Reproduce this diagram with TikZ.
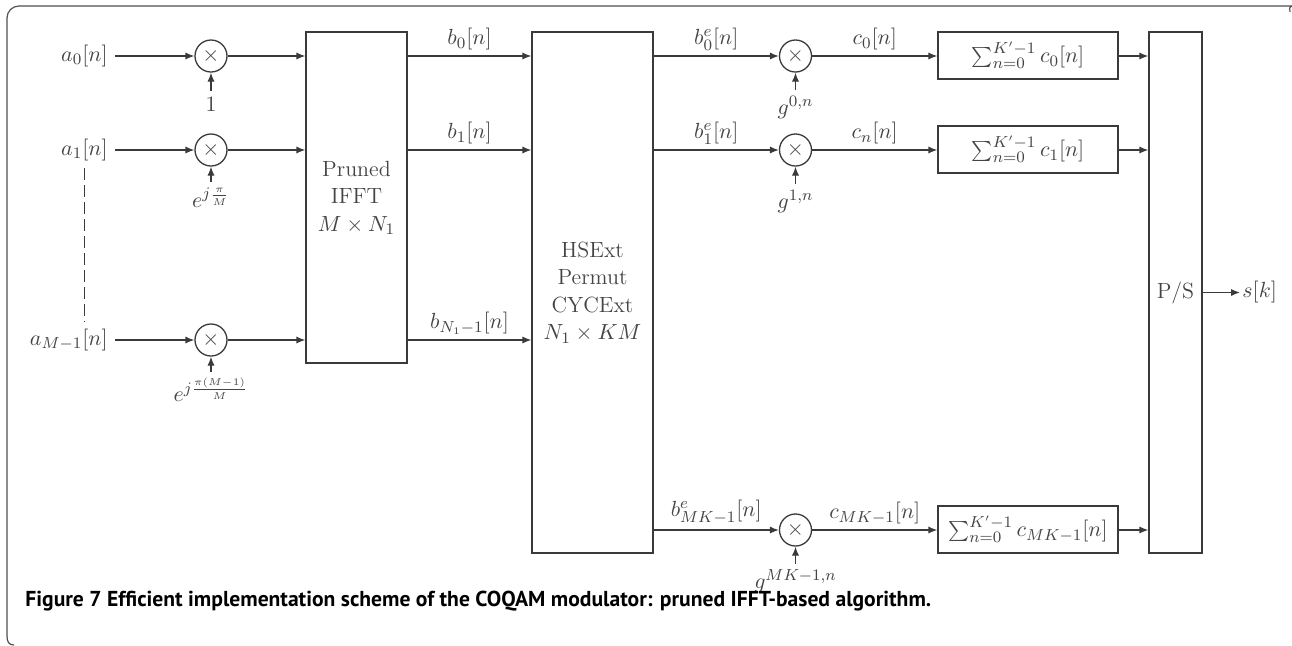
\documentclass[tikz,border=0pt]{standalone}
\usepackage{fontspec}
\newfontfamily\capfont{PT Sans}
\usetikzlibrary{arrows.meta,calc}
\definecolor{dg}{HTML}{3A3A3A}
\definecolor{tg}{HTML}{444444}
\definecolor{fr}{HTML}{505050}
\begin{document}
\begin{tikzpicture}[x=0.5pt,y=-0.5pt,
  every node/.style={font=\fontsize{11}{13.75}\selectfont},
  ln/.style={line width=0.65pt, draw=dg},
  arr/.style={ln, -{Latex[length=4.5pt,width=3.6pt]}},
  mult/.style={circle, ln, minimum size=16pt, inner sep=0pt, text=tg},
  blk/.style={rectangle, ln, inner sep=0pt, align=center, text=tg},
  lab/.style={inner sep=0pt, text=tg},
  sig/.style={inner sep=2.5pt, text=tg},
  inp/.style={inner sep=3.5pt, text=tg, anchor=east},
  framestyle/.style={line width=0.6pt, draw=fr}]
\useasboundingbox (0,0) rectangle (1292,645);
% frame
\draw[framestyle] (14,645) .. controls (9,645) and (7,642) .. (7,636)
  [rounded corners=6pt] -- (7,6) -- (1283,6) [sharp corners]
  .. controls (1288,6) and (1290,8) .. (1290,12);
% inputs
\node[inp] (in0) at (115,56) {$a_0[n]$};
\node[inp] (in1) at (115,150) {$a_1[n]$};
\node[inp] (inL) at (115,340) {$a_{M-1}[n]$};
\draw[ln, dash pattern=on 6pt off 2.5pt] (in1.south) -- (in1.south |- inL.north);
% first multipliers
\node[mult] (m0) at (211,56) {$\times$};
\node[mult] (m1) at (211,150) {$\times$};
\node[mult] (mL) at (211,340) {$\times$};
\node[lab, anchor=north] (k0) at ([yshift=-12pt]m0.south) {$1$};
\node[lab, anchor=north] (k1) at ([yshift=-10.5pt]m1.south) {$e^{j\frac{\pi}{M}}$};
\node[lab, anchor=north] (kL) at ([yshift=-10.5pt]mL.south) {$e^{j\frac{\pi(M-1)}{M}}$};
\foreach \i in {0,1,L}{
  \draw[arr] (in\i) -- (m\i);
  \draw[arr, shorten <=3pt] (k\i.north) -- (m\i.south);
}
% IFFT block
\node[blk, minimum width=50.5pt, minimum height=165.5pt] (ifft) at (356.5,197.5)
  {Pruned\\IFFT\\$M\times N_1$};
\foreach \i in {0,1,L}{
  \draw[arr] (m\i.east) -- (m\i.east -| ifft.west);
}
% HSExt block
\node[blk, minimum width=60.5pt, minimum height=260.5pt] (hse) at (592.5,292.5)
  {HSExt\\Permut\\CYCExt\\$N_1\times KM$};
\draw[arr] (ifft.east |- m0.east) -- node[sig, above] (b0) {$b_0[n]$} (hse.west |- m0.east);
\draw[arr] (ifft.east |- m1.east) -- node[sig, above] (b1) {$b_1[n]$} (hse.west |- m1.east);
\draw[arr] (ifft.east |- mL.east) -- node[sig, above] (bL) {$b_{N_1-1}[n]$} (hse.west |- mL.east);
% second multipliers
\node[mult] (g0) at (795.5,56) {$\times$};
\node[mult] (g1) at (795.5,150) {$\times$};
\node[mult] (gL) at (795.5,530) {$\times$};
\node[lab, anchor=north] (h0) at ([yshift=-11.5pt]g0.south) {$g^{0,n}$};
\node[lab, anchor=north] (h1) at ([yshift=-11.5pt]g1.south) {$g^{1,n}$};
\node[lab, anchor=north] (hL) at ([yshift=-11.5pt]gL.south) {$g^{MK-1,n}$};
\draw[arr] (hse.east |- g0.west) -- node[sig, above] (be0) {$b^e_0[n]$} (g0.west);
\draw[arr] (hse.east |- g1.west) -- node[sig, above] (be1) {$b^e_1[n]$} (g1.west);
\draw[arr] (hse.east |- gL.west) -- node[sig, above] (beL) {$b^e_{MK-1}[n]$} (gL.west);
\foreach \i in {0,1,L}{
  \draw[arr, shorten <=3pt] (h\i.north) -- (g\i.south);
}
% sum blocks
\node[blk, minimum width=90pt, minimum height=23.5pt] (s0) at (1028,55.5)
  {$\sum_{n=0}^{K'-1} c_0[n]$};
\node[blk, minimum width=90pt, minimum height=23.5pt] (s1) at (1028,149.5)
  {$\sum_{n=0}^{K'-1} c_1[n]$};
\node[blk, minimum width=90pt, minimum height=23.5pt] (sL) at (1028,529.5)
  {$\sum_{n=0}^{K'-1} c_{MK-1}[n]$};
\draw[arr] (g0.east) -- node[sig, above] (c0) {$c_0[n]$} (g0.east -| s0.west);
\draw[arr] (g1.east) -- node[sig, above] (c1) {$c_n[n]$} (g1.east -| s1.west);
\draw[arr] (gL.east) -- node[sig, above] (cL) {$c_{MK-1}[n]$} (gL.east -| sL.west);
% P/S block
\node[blk, minimum width=26.5pt, minimum height=260.5pt] (ps) at (1175.5,292.5) {P/S};
\foreach \i in {0,1,L}{
  \draw[arr] (s\i.east |- g\i.east) -- (ps.west |- g\i.east);
}
\node[lab, anchor=west, inner sep=1pt] (out) at (1240,292.5) {$s[k]$};
\draw[arr] (ps.east |- out.west) -- (out.west);
% caption
\node[anchor=base west, inner sep=0pt, font=\capfont\bfseries\fontsize{10.8}{13}\selectfont] (cap)
  at (25,606) {Figure 7 Efficient implementation scheme of the COQAM modulator: pruned IFFT-based algorithm.};
\end{tikzpicture}
\end{document}
